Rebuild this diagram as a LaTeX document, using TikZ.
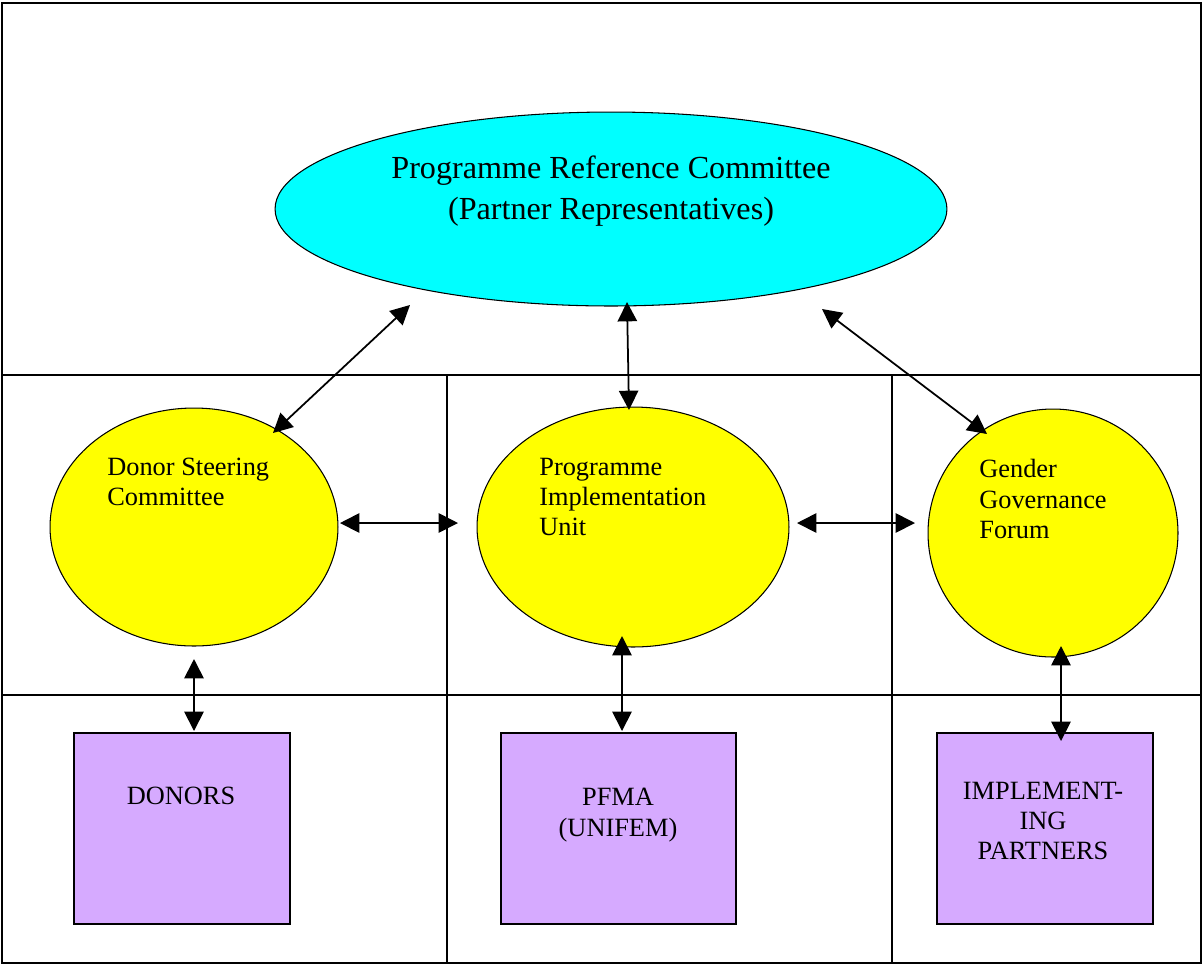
\documentclass[tikz,border=0pt]{standalone}
\usepackage{fontspec}
\setmainfont{Liberation Serif}
\usetikzlibrary{arrows.meta}
\usetikzlibrary{shapes.geometric}
\definecolor{prccyan}{RGB}{0,255,255}
\definecolor{unityellow}{RGB}{255,255,0}
\definecolor{boxlilac}{RGB}{214,170,255}
\tikzstyle{every node}=[font=\fontsize{15}{17.3}\selectfont]
\tikzstyle{grid}=[line width=1.1pt]
\tikzstyle{oval}=[ellipse,draw,line width=0.6pt,inner sep=0pt]
\tikzstyle{oval text}=[align=left,anchor=west,inner sep=0pt]
\tikzstyle{partner}=[rectangle,draw,line width=0.9pt,fill=boxlilac,inner sep=0pt]
\tikzstyle{link}=[line width=1pt,{Triangle[length=11pt,width=11pt]}-{Triangle[length=11pt,width=11pt]}]

\begin{document}
\begin{tikzpicture}[x=0.02cm,y=-0.02cm]
    \useasboundingbox (0,0) rectangle (1203,965);

    % Frame and cells
    \draw[grid] (2,3) rectangle (1201,963);
    \draw[grid] (2,375) -- (1201,375)
    (2,695) -- (1201,695)
    (447,375) -- (447,963)
    (892,375) -- (892,963);

    % Committees
    \node[oval,fill=prccyan,minimum width=13.44cm,minimum height=3.88cm] (prc) at (611,209) {};
    \node[align=center,font=\fontsize{18.3}{23.2}\selectfont] (prctext) at (611,191)
    {Programme Reference Committee\\(Partner Representatives)};

    \node[oval,fill=unityellow,minimum width=5.76cm,minimum height=4.76cm] (dsc) at (194,527) {};
    \node[oval text] (dsctext) at (107,482) {Donor Steering\\Committee};

    \node[oval,fill=unityellow,minimum width=6.24cm,minimum height=4.8cm] (piu) at (633,527) {};
    \node[oval text] (piutext) at (539,497) {Programme\\Implementation\\Unit};

    \node[oval,fill=unityellow,minimum width=5cm,minimum height=4.96cm] (ggf) at (1053,533) {};
    \node[oval text] (ggftext) at (979,499) {Gender\\Governance\\Forum};

    % Partners
    \node[partner,minimum width=4.32cm,minimum height=3.82cm] (donors) at (182,828.5) {};
    \node (donorstext) at (181,796) {DONORS};
    \node[partner,minimum width=4.7cm,minimum height=3.82cm] (pfma) at (618.5,828.5) {};
    \node[align=center,font=\fontsize{15}{18}\selectfont] (pfmatext) at (618,815) {PFMA\\(UNIFEM)};
    \node[partner,minimum width=4.32cm,minimum height=3.82cm] (ip) at (1045,828.5) {};
    \node[align=center] (iptext) at (1043,821) {IMPLEMENT-\\ING\\PARTNERS};

    % Arrow end points
    \path (273,433) coordinate (dscN)
    (410,305) coordinate (prcSW)
    (629,410) coordinate (piuN)
    (627,302) coordinate (prcS)
    (987,434) coordinate (ggfN)
    (822,309) coordinate (prcSE)
    (340,523) coordinate (dscE)
    (458,523) coordinate (piuW)
    (797,523) coordinate (piuE)
    (915,523) coordinate (ggfW)
    (194,659) coordinate (dscS)
    (194,731) coordinate (donorsN)
    (622,636) coordinate (piuS)
    (622,731) coordinate (pfmaN)
    (1061,646) coordinate (ggfS)
    (1061,741) coordinate (ipN);

    % Links
    \draw[link] (dscN) -- (prcSW);
    \draw[link] (piuN) -- (prcS);
    \draw[link] (ggfN) -- (prcSE);
    \draw[link] (dscE) -- (piuW);
    \draw[link] (piuE) -- (ggfW);
    \draw[link] (dscS) -- (donorsN);
    \draw[link] (piuS) -- (pfmaN);
    \draw[link] (ggfS) -- (ipN);
\end{tikzpicture}
\end{document}
